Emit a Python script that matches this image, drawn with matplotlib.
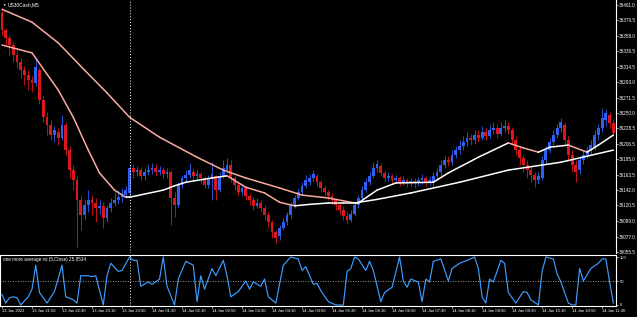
import matplotlib
matplotlib.use("Agg")
import matplotlib.pyplot as plt

# US30Cash M5 candles (one entry per bar)
opens = [36390, 36366, 36355, 36345, 36331, 36321, 36310, 36303, 36296, 36292,
         36310, 36268, 36244, 36233, 36219, 36223, 36215, 36233, 36198, 36170,
         36156, 36128, 36107, 36121, 36128, 36124, 36117, 36120, 36103, 36117,
         36124, 36128, 36132, 36135, 36138, 36173, 36167, 36170, 36162, 36167,
         36170, 36173, 36167, 36170, 36164, 36167, 36131, 36121, 36149, 36159,
         36163, 36167, 36162, 36164, 36159, 36149, 36159, 36162, 36142, 36162,
         36170, 36177, 36159, 36149, 36139, 36145, 36134, 36128, 36120, 36124,
         36117, 36107, 36097, 36083, 36078, 36089, 36097, 36107, 36121, 36131,
         36139, 36148, 36153, 36159, 36162, 36153, 36145, 36139, 36134, 36128,
         36121, 36114, 36106, 36100, 36108, 36121, 36131, 36142, 36153, 36162,
         36173, 36176, 36166, 36159, 36162, 36156, 36159, 36153, 36156, 36152,
         36155, 36152, 36156, 36159, 36153, 36153, 36162, 36167, 36177, 36184,
         36181, 36191, 36198, 36204, 36209, 36215, 36212, 36219, 36215, 36223,
         36218, 36226, 36229, 36220, 36229, 36232, 36226, 36212, 36198, 36187,
         36177, 36170, 36163, 36156, 36159, 36184, 36198, 36209, 36219, 36229,
         36233, 36212, 36191, 36177, 36170, 36184, 36191, 36198, 36202, 36219,
         36229, 36240, 36247, 36236]
closes = [36366, 36355, 36345, 36331, 36321, 36310, 36303, 36296, 36292, 36314,
          36268, 36244, 36233, 36219, 36226, 36215, 36233, 36198, 36170, 36156,
          36128, 36107, 36121, 36128, 36124, 36117, 36120, 36103, 36117, 36124,
          36128, 36132, 36135, 36142, 36173, 36167, 36170, 36162, 36167, 36170,
          36173, 36167, 36170, 36164, 36167, 36131, 36121, 36149, 36159, 36163,
          36170, 36162, 36164, 36159, 36149, 36159, 36164, 36142, 36162, 36173,
          36177, 36159, 36149, 36139, 36145, 36134, 36128, 36120, 36124, 36117,
          36107, 36097, 36083, 36075, 36089, 36097, 36107, 36121, 36131, 36139,
          36148, 36156, 36159, 36164, 36153, 36145, 36139, 36134, 36128, 36121,
          36114, 36106, 36100, 36108, 36121, 36131, 36142, 36153, 36162, 36173,
          36178, 36166, 36159, 36162, 36156, 36159, 36153, 36156, 36152, 36155,
          36152, 36156, 36159, 36153, 36156, 36162, 36167, 36177, 36184, 36181,
          36191, 36198, 36204, 36209, 36215, 36212, 36219, 36215, 36223, 36218,
          36226, 36229, 36220, 36229, 36232, 36226, 36212, 36198, 36187, 36177,
          36170, 36163, 36156, 36162, 36184, 36198, 36209, 36219, 36229, 36237,
          36212, 36191, 36177, 36167, 36184, 36191, 36198, 36205, 36219, 36229,
          36243, 36250, 36236, 36222]
highs = [36394, 36369, 36359, 36349, 36338, 36327, 36316, 36310, 36302, 36328,
         36313, 36274, 36251, 36240, 36232, 36229, 36247, 36237, 36204, 36177,
         36162, 36135, 36128, 36142, 36135, 36131, 36128, 36125, 36121, 36131,
         36139, 36142, 36145, 36148, 36178, 36178, 36176, 36174, 36173, 36177,
         36180, 36178, 36176, 36174, 36173, 36170, 36139, 36153, 36163, 36170,
         36180, 36173, 36170, 36167, 36162, 36163, 36181, 36163, 36167, 36184,
         36187, 36184, 36162, 36153, 36149, 36148, 36138, 36132, 36131, 36128,
         36121, 36111, 36100, 36086, 36093, 36103, 36111, 36125, 36135, 36145,
         36153, 36163, 36164, 36170, 36164, 36156, 36149, 36142, 36138, 36131,
         36125, 36120, 36111, 36114, 36125, 36135, 36148, 36159, 36167, 36181,
         36184, 36180, 36170, 36167, 36164, 36163, 36162, 36162, 36159, 36159,
         36159, 36160, 36164, 36162, 36162, 36167, 36173, 36184, 36190, 36190,
         36198, 36204, 36212, 36218, 36223, 36220, 36226, 36226, 36232, 36229,
         36234, 36237, 36234, 36237, 36240, 36237, 36230, 36218, 36204, 36191,
         36184, 36176, 36167, 36167, 36190, 36204, 36215, 36226, 36234, 36243,
         36237, 36218, 36198, 36184, 36190, 36198, 36204, 36212, 36226, 36234,
         36257, 36254, 36251, 36241]
lows = [36359, 36345, 36331, 36321, 36313, 36299, 36289, 36282, 36279, 36288,
        36262, 36237, 36219, 36212, 36209, 36205, 36212, 36191, 36159, 36142,
        36062, 36086, 36100, 36111, 36107, 36097, 36108, 36089, 36097, 36111,
        36120, 36122, 36125, 36131, 36134, 36159, 36162, 36156, 36156, 36163,
        36164, 36162, 36163, 36159, 36159, 36093, 36104, 36117, 36145, 36153,
        36159, 36156, 36156, 36152, 36145, 36145, 36128, 36128, 36139, 36159,
        36167, 36153, 36142, 36134, 36135, 36128, 36121, 36114, 36117, 36111,
        36100, 36089, 36075, 36068, 36072, 36086, 36093, 36103, 36117, 36128,
        36135, 36145, 36149, 36153, 36148, 36139, 36134, 36128, 36122, 36114,
        36108, 36100, 36094, 36097, 36106, 36117, 36128, 36139, 36149, 36159,
        36167, 36162, 36153, 36155, 36150, 36152, 36148, 36149, 36146, 36148,
        36145, 36148, 36150, 36148, 36149, 36148, 36156, 36162, 36173, 36176,
        36177, 36187, 36192, 36198, 36204, 36205, 36206, 36209, 36212, 36212,
        36215, 36220, 36215, 36218, 36223, 36220, 36205, 36191, 36177, 36167,
        36159, 36153, 36146, 36150, 36156, 36180, 36194, 36204, 36215, 36223,
        36206, 36184, 36167, 36153, 36164, 36178, 36187, 36192, 36198, 36212,
        36223, 36232, 36229, 36218]

# moving averages, read at a few bars
fast_idx = [0, 8, 15, 19, 23, 26, 30, 33, 34, 43, 46, 49, 56, 60, 65, 70, 74, 78,
            82, 87, 91, 95, 100, 105, 115, 119, 127, 135, 139, 143, 146, 151, 156, 159, 163]
fast_val = [36345, 36334, 36282, 36244, 36198, 36166, 36142, 36132, 36132, 36142,
            36148, 36153, 36159, 36162, 36146, 36138, 36125, 36120, 36122, 36124,
            36124, 36124, 36142, 36152, 36153, 36166, 36188, 36208, 36201, 36195,
            36202, 36205, 36195, 36205, 36219]
slow_idx = [0, 8, 15, 22, 28, 34, 42, 52, 59, 65, 74, 80, 87, 94, 100, 109, 122, 135, 149, 163]
slow_val = [36395, 36377, 36348, 36310, 36278, 36244, 36216, 36188, 36170, 36159,
            36145, 36135, 36131, 36124, 36129, 36138, 36153, 36170, 36181, 36198]

# oscillator (one more average rsi)
osc_idx = [0, 1, 2, 3, 4, 5, 7, 8, 9, 10, 12, 14, 16, 17, 19, 20, 21, 23, 24, 25,
           27, 28, 29, 31, 32, 34, 35, 36, 37, 39, 40, 42, 43, 44, 46, 47, 49, 51,
           52, 53, 54, 56, 57, 59, 60, 61, 63, 65, 66, 67, 69, 70, 71, 73, 75, 77,
           79, 80, 81, 83, 84, 85, 87, 89, 91, 92, 93, 94, 95, 97, 98, 99, 101, 102,
           104, 106, 107, 108, 109, 111, 112, 113, 114, 115, 117, 119, 120, 122, 124,
           126, 127, 128, 129, 130, 131, 133, 134, 135, 137, 139, 140, 141, 143, 144,
           145, 147, 148, 149, 151, 152, 153, 154, 155, 157, 159, 160, 161, 162, 163]
osc_val = [22, 4, 15, 17, 15, 0, 17, 33, 83, 26, 4, 28, 83, 17, 11, 4, 61, 61, 59, 61,
           0, 61, 87, 70, 72, 100, 93, 93, 39, 48, 43, 54, 100, 39, 0, 54, 91, 83,
           7, 61, 33, 76, 61, 93, 61, 17, 28, 50, 33, 48, 39, 54, 17, 4, 83, 100,
           96, 72, 80, 43, 45, 30, 7, 0, 0, 70, 76, 100, 96, 72, 91, 72, 7, 26,
           37, 100, 50, 37, 54, 48, 7, 54, 48, 91, 96, 50, 76, 87, 93,
           100, 76, 17, 4, 54, 48, 93, 87, 26, 4, 28, 26, 11, 0, 70,
           100, 96, 65, 48, 4, 0, 0, 76, 50, 76, 87, 96, 96, 48, 4]

price_ticks = [36401.0, 36379.5, 36358.0, 36336.5, 36314.5, 36293.0, 36271.5, 36250.0,
               36228.5, 36206.5, 36185.0, 36163.5, 36142.0, 36120.5, 36099.0, 36077.0, 36055.5]
time_idx = [0, 8, 16, 24, 32, 40, 48, 56, 64, 72, 80, 88, 96, 104, 112, 120, 128, 136, 144, 152, 160]
time_labels = ["13 Jan 2022", "13 Jan 21:50", "13 Jan 22:30", "13 Jan 23:10", "13 Jan 23:50",
               "14 Jan 01:30", "14 Jan 02:10", "14 Jan 02:50", "14 Jan 03:30", "14 Jan 04:10",
               "14 Jan 04:50", "14 Jan 05:30", "14 Jan 06:10", "14 Jan 06:50", "14 Jan 07:30",
               "14 Jan 08:10", "14 Jan 08:50", "14 Jan 09:30", "14 Jan 10:10", "14 Jan 10:50",
               "14 Jan 11:30"]
day_sep = 34

plt.rcParams["font.family"] = ["Liberation Sans", "DejaVu Sans"]

W, H = 637, 317
UP = "#2f5ff0"
DOWN = "#dc161c"
PINK = "#f8ab9e"
OSC = "#3d9dff"


def rect(x0, y0, x1, y1):
    return [x0 / W, 1 - y1 / H, (x1 - x0) / W, (y1 - y0) / H]


def ma_line(ax, idx, val):
    # falling part drawn pink, rising part white
    for k in range(len(idx) - 1):
        col = PINK if val[k + 1] < val[k] else "white"
        ax.plot(idx[k:k + 2], val[k:k + 2], color=col, lw=1.1, solid_capstyle="round")


fig = plt.figure(figsize=(W / 100, H / 100), dpi=100, facecolor="black")
ax = fig.add_axes(rect(0, 0, 616, 253), facecolor="black")
osc = fig.add_axes(rect(0, 255, 616, 306), facecolor="black")

# candles
for i in range(len(opens)):
    o, c = opens[i], closes[i]
    col = UP if c > o else DOWN
    ax.vlines(i, lows[i], highs[i], color=col, lw=0.6)
    ax.bar(i, max(abs(c - o), 0.8), bottom=min(o, c), width=0.75, color=col, lw=0)

ma_line(ax, slow_idx, slow_val)
ma_line(ax, fast_idx, fast_val)

ax.set_xlim(-0.53, 163.7)
ax.set_ylim(36054, 36408)
ax.set_yticks(price_ticks)
ax.set_yticklabels(["%.1f" % v for v in price_ticks])
ax.yaxis.tick_right()
ax.tick_params(axis="y", colors="white", labelsize=3.3, length=1.5, width=0.5, pad=0.8)
ax.tick_params(axis="x", bottom=False, labelbottom=False)
for s in ["left", "top", "bottom"]:
    ax.spines[s].set_visible(False)
ax.spines["right"].set_color("white")
ax.spines["right"].set_linewidth(0.8)
ax.axvline(day_sep, color="white", lw=0.7, ls=(0, (1, 2)))

# oscillator panel
osc.plot(osc_idx, osc_val, color=OSC, lw=0.85)
osc.axhline(50, color="#c8c8c8", lw=0.6, ls=(0, (1, 2)))
osc.axvline(day_sep, color="white", lw=0.7, ls=(0, (1, 2)))
osc.set_xlim(-0.53, 163.7)
osc.set_ylim(-2.1, 104.2)
osc.set_yticks([0, 50, 100])
osc.set_yticklabels(["0", "50", "100"])
osc.yaxis.tick_right()
osc.set_xticks(time_idx)
osc.set_xticklabels(time_labels)
for lab in osc.get_xticklabels():
    lab.set_ha("left")
osc.tick_params(colors="white", labelsize=3.0, length=1.5, width=0.5, pad=1)
for s in osc.spines.values():
    s.set_color("white")
    s.set_linewidth(0.8)

fig.text(2 / W, 1 - 4.5 / H, "\u25bc", color="white", fontsize=2.5, va="center")
fig.text(8 / W, 1 - 4.5 / H, "US30Cash,M5", color="white", fontsize=3.5, va="center")
fig.text(3 / W, 1 - 260 / H, "one more average rsi (5,Close) 25.8534", color="white",
         fontsize=3.3, va="center")

fig.savefig("out.png", dpi=100, facecolor="black")
